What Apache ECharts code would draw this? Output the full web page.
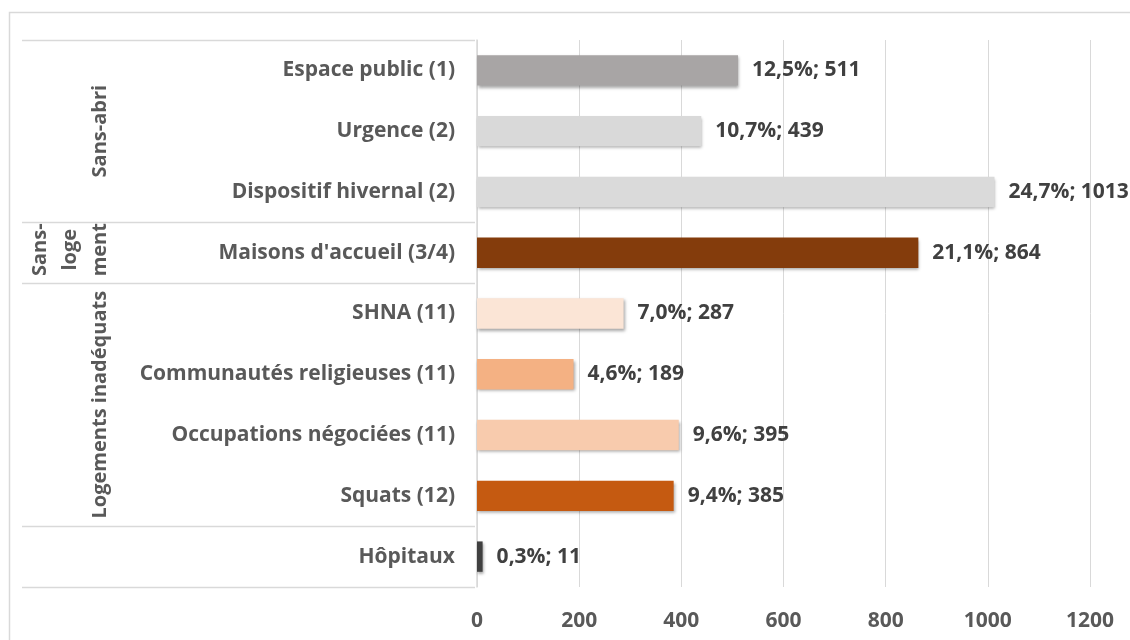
<!DOCTYPE html>
<html>
<head>
<meta charset="utf-8">
<script src="https://cdn.jsdelivr.net/npm/echarts@6/dist/echarts.min.js"></script>
<style>
  html, body { margin: 0; padding: 0; background: #fff; }
  #chart { width: 1130px; height: 640px; }
</style>
</head>
<body>
<div id="chart"></div>
<script>
// categories, top to bottom
var categories = ['Espace public (1)', 'Urgence (2)', 'Dispositif hivernal (2)', "Maisons d'accueil (3/4)",
  'SHNA (11)', 'Communautés religieuses (11)', 'Occupations négociées (11)', 'Squats (12)', 'Hôpitaux'];
var values = [511, 439, 1013, 864, 287, 189, 395, 385, 11];
var percents = ['12,5%', '10,7%', '24,7%', '21,1%', '7,0%', '4,6%', '9,6%', '9,4%', '0,3%'];
var barColors = ['#a8a5a5', '#d9d9d9', '#dadada', '#843c0c', '#fbe5d6', '#f4b183', '#f8cbad', '#c55a11', '#404040'];
var xTicks = [0, 200, 400, 600, 800, 1000, 1200];

// groups: label lines + number of categories covered
var groups = [
  { lines: ['Sans-abri'], count: 3 },
  { lines: ['Sans-', 'loge', 'ment'], count: 1 },
  { lines: ['Logements inadéquats'], count: 4 },
  { lines: [], count: 1 }
];

var FONT = '"Open Sans", sans-serif';
var gridTop = 40, gridBottom = 53, gridLeft = 477, gridRight = 40;
var H = 640;
var bandH = (H - gridTop - gridBottom) / categories.length;

var chart = echarts.init(document.getElementById('chart'));

var graphics = [];
// outer frame
graphics.push({
  type: 'rect', silent: true,
  shape: { x: 9.5, y: 12.5, width: 1140, height: 660 },
  style: { fill: 'none', stroke: '#d9d9d9', lineWidth: 1.5 }
});
// table lines and group labels
var pos = 0;
var lineYs = [gridTop];
groups.forEach(function (g) {
  var y0 = gridTop + pos * bandH;
  pos += g.count;
  var y1 = gridTop + pos * bandH;
  lineYs.push(y1);
  var cy = (y0 + y1) / 2;
  var n = g.lines.length;
  g.lines.forEach(function (t, i) {
    var cx = n === 1 ? 100 : 40 + i * 30;
    graphics.push({
      type: 'text', silent: true,
      x: cx, y: n === 1 ? cy : cy - 3, rotation: Math.PI / 2,
      style: {
        text: t, fill: '#595959', font: 'bold 20px ' + FONT,
        align: 'center', verticalAlign: 'middle'
      }
    });
  });
});
lineYs.forEach(function (y) {
  graphics.push({
    type: 'line', silent: true,
    shape: { x1: 22, y1: Math.round(y) + 0.5, x2: gridLeft - 2, y2: Math.round(y) + 0.5 },
    style: { stroke: '#d9d9d9', lineWidth: 1.5 }
  });
});

chart.setOption({
  backgroundColor: '#ffffff',
  animation: false,
  grid: { left: gridLeft, right: gridRight, top: gridTop, bottom: gridBottom },
  xAxis: {
    type: 'value',
    min: xTicks[0],
    max: xTicks[xTicks.length - 1],
    interval: 200,
    axisLine: { show: false },
    axisTick: { show: false },
    axisLabel: {
      color: '#595959', fontSize: 21, fontWeight: 'bold', fontFamily: FONT, margin: 24,
      formatter: function (v) { return String(v); }
    },
    splitLine: { lineStyle: { color: '#d9d9d9', width: 1 } }
  },
  yAxis: {
    type: 'category',
    inverse: true,
    data: categories,
    axisLine: { show: true, lineStyle: { color: '#d9d9d9', width: 1.5 } },
    axisTick: { show: false },
    axisLabel: {
      color: '#595959', fontSize: 21, fontWeight: 'bold', fontFamily: FONT, margin: 22
    }
  },
  series: [{
    type: 'bar',
    barCategoryGap: '50%',
    data: values.map(function (v, i) {
      return { value: v, itemStyle: { color: barColors[i] } };
    }),
    itemStyle: {
      shadowColor: 'rgba(0,0,0,0.35)', shadowBlur: 3, shadowOffsetX: 1, shadowOffsetY: 2
    },
    label: {
      show: true,
      position: 'right',
      distance: 14,
      color: '#404040',
      fontSize: 21,
      fontWeight: 'bold',
      fontFamily: FONT,
      formatter: function (p) { return percents[p.dataIndex] + '; ' + p.value; }
    }
  }],
  graphic: graphics
});
</script>
</body>
</html>
